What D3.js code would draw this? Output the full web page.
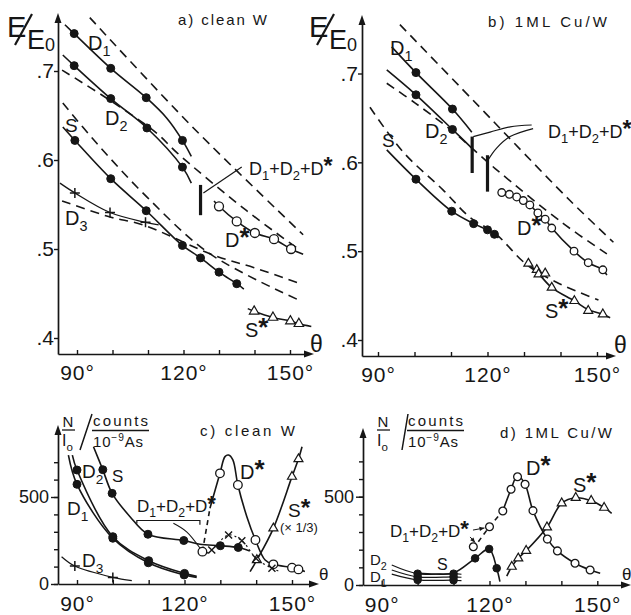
<!DOCTYPE html>
<html>
<head>
<meta charset="utf-8">
<script src="https://cdn.jsdelivr.net/npm/d3@7"></script>
<style>
  body { margin: 0; background: #fff; }
  text { font-family: "Liberation Sans", Arial, sans-serif; fill: #161616; }
</style>
</head>
<body>
<svg id="fig" width="631" height="615"></svg>
<script>
// ---- ticks ----
var angleTicks = [90, 100, 110, 120, 130, 140, 150];
var angleLabels = [90, 120, 150];
var energyTicks = [0.4, 0.5, 0.6, 0.7];
var countTicks = [0, 100, 200, 300, 400, 500, 600, 700];
var countLabels = [0, 500];

// ---- a) clean W : [theta deg, E/E0] ----
var aD1Pts = [[89.2, 0.742], [99.5, 0.703], [109.5, 0.670], [119.7, 0.622]];
var aD1Fit = [[86.6, 0.752], [89.2, 0.742], [99.5, 0.703], [109.5, 0.670], [115.3, 0.647], [119.7, 0.622], [122.2, 0.604]];
var aD2Pts = [[89.2, 0.706], [99.5, 0.669], [109.7, 0.636], [119.7, 0.592]];
var aD2Fit = [[86.0, 0.718], [89.2, 0.706], [99.5, 0.669], [109.7, 0.636], [119.7, 0.592], [122.2, 0.574]];
var aSPts = [[89.4, 0.622], [99.5, 0.579], [109.5, 0.543], [119.7, 0.504], [124.8, 0.490], [130.0, 0.474], [135.0, 0.461]];
var aSFit = [[86.0, 0.637], [89.4, 0.622], [99.5, 0.579], [109.5, 0.543], [119.7, 0.504], [124.8, 0.490], [130.0, 0.474], [135.0, 0.461], [137.0, 0.455]];
var aD3Pts = [[89.4, 0.563], [99.3, 0.541], [109.3, 0.530]];
var aD3Fit = [[85.2, 0.574], [89.4, 0.563], [99.3, 0.541], [109.3, 0.530], [113.0, 0.527]];
var aDsPts = [[130.0, 0.548], [135.0, 0.531], [140.1, 0.518], [145.5, 0.511], [150.3, 0.500]];
var aDsFit = [[128.6, 0.554], [130.0, 0.548], [135.0, 0.531], [140.1, 0.518], [145.5, 0.511], [150.3, 0.500], [153.7, 0.494]];
var aSsPts = [[139.9, 0.430], [145.2, 0.423], [150.1, 0.419], [152.5, 0.416]];
var aSsFit = [[138.1, 0.433], [139.9, 0.430], [145.2, 0.423], [150.1, 0.419], [152.5, 0.416], [156.0, 0.413]];
// dashed: calculated curves
var aD1Calc = [[93.6, 0.760], [122.8, 0.636], [153.7, 0.516]];
var aD2Calc = [[85.8, 0.701], [99.3, 0.667], [112.5, 0.630], [118.2, 0.608], [137.8, 0.543], [152.0, 0.501]];
var aSCalc = [[86.0, 0.664], [95.5, 0.619], [109.8, 0.558], [127.3, 0.495], [152.3, 0.443]];
var aD3Calc = [[85.8, 0.554], [99.3, 0.536], [108.7, 0.527], [128.5, 0.493], [139.9, 0.479], [152.3, 0.462]];
var aBars = [[124.8, 0.538, 0.572]];
var aLeader = [[125.6, 0.563], [136.4, 0.592]];

// ---- b) 1ML Cu/W ----
var bD1Pts = [[100.4, 0.701], [110.4, 0.660]];
var bD1Fit = [[93.75, 0.730], [100.4, 0.701], [110.4, 0.660], [115.7, 0.634]];
var bD2Pts = [[100.4, 0.676], [110.4, 0.637]];
var bD2Fit = [[92.4, 0.704], [100.4, 0.676], [110.4, 0.637], [115.7, 0.616]];
var bSPts = [[100.4, 0.581], [110.2, 0.545], [116.2, 0.531], [120.0, 0.524], [121.9, 0.519]];
var bSFit = [[92.4, 0.614], [100.4, 0.581], [110.2, 0.545], [116.2, 0.531], [120.0, 0.524], [121.9, 0.519], [123.0, 0.515]];
var bDsPts = [[123.9, 0.566], [126.0, 0.564], [128.0, 0.561], [129.8, 0.557], [131.6, 0.552], [133.8, 0.543],
              [135.8, 0.536], [137.6, 0.526], [143.7, 0.500], [147.6, 0.487], [151.6, 0.479]];
var bDsFit = [[123.0, 0.569], [123.9, 0.566], [126.0, 0.564], [128.0, 0.561], [129.8, 0.557], [131.6, 0.552], [133.8, 0.543],
              [135.8, 0.536], [137.6, 0.526], [143.7, 0.500], [147.6, 0.487], [151.6, 0.479], [152.7, 0.473]];
var bSsPts = [[131.2, 0.486], [133.5, 0.479], [134.0, 0.474], [135.8, 0.475], [137.6, 0.459], [143.8, 0.444], [147.6, 0.433], [151.6, 0.429]];
var bSsFit = [[130.7, 0.488], [133.5, 0.477], [137.6, 0.459], [143.8, 0.444], [147.6, 0.434], [151.6, 0.429], [153.6, 0.425]];
var bD1Calc = [[96.0, 0.755], [119.3, 0.656], [127.0, 0.623], [142.6, 0.557], [154.5, 0.510]];
var bD2Calc = [[92.4, 0.689], [100.1, 0.667], [110.4, 0.635], [122.1, 0.593], [140.8, 0.531], [152.7, 0.497]];
var bSCalc = [[87.8, 0.662], [96.8, 0.612], [107.8, 0.569], [115.2, 0.538], [122.1, 0.520], [130.7, 0.485], [138.9, 0.465], [150.4, 0.445]];
var bBars = [[115.8, 0.588, 0.629], [120.0, 0.567, 0.608]];
var bLeader1 = [[116.1, 0.629], [120.7, 0.634], [126.2, 0.640], [132.1, 0.642]];
var bLeader2 = [[120.2, 0.603], [122.5, 0.616], [126.2, 0.629], [132.5, 0.638]];

// ---- c) clean W : [theta deg, N/I0 counts] ----
var cD1Pts = [[90, 573], [100, 263], [109.9, 122], [119.9, 52]];
var cD1Fit = [[87.6, 741], [90, 573], [100, 263], [109.9, 122], [119.9, 52], [123.4, 38]];
var cD2Pts = [[90, 655], [100, 272], [110, 134], [120, 61]];
var cD2Fit = [[88.7, 741], [90, 655], [100, 272], [110, 134], [120, 61], [123.4, 44]];
var cSPts = [[97.2, 657], [99.8, 521], [109.8, 286], [119.8, 250], [130, 220], [135, 210]];
var cSFit = [[94.6, 789], [97.2, 657], [99.8, 521], [104.8, 387], [109.8, 286], [119.8, 250], [124.3, 228], [130, 220], [135, 210], [138.2, 190]];
var cD3Pts = [[89.4, 103], [100, 38]];
var cD3Fit = [[85.7, 157], [89.4, 103], [100, 38], [105.3, 19]];
var cDsPts = [[125, 186], [129.9, 636], [134.9, 569], [139.8, 253], [144.8, 113], [150, 94], [151.8, 84]];
var cDsRise = [[125, 186], [127.1, 435]];
var cDsFit = [[127.1, 435], [129.9, 636], [131.3, 732], [132.3, 741], [133.5, 713], [134.9, 569], [137.4, 387],
              [139.8, 253], [142.5, 138], [144.8, 113], [150, 94], [151.8, 84], [153.6, 72]];
var cSsPts = [[140.2, 138], [144.8, 320], [150, 617], [151.8, 718]];
var cSsFit = [[138.3, 71], [140.2, 138], [144.8, 320], [150, 617], [151.8, 718], [152.8, 789]];
var cXPts = [[127.6, 195], [132.3, 282], [136, 249], [140, 147], [144.4, 90]];
var cXFit = [[126.2, 176], [127.6, 195], [132.3, 282], [136, 249], [140, 147], [144.4, 90], [146.7, 71]];
var cBracket = [[106.7, 348], [106.7, 365], [124.3, 365], [124.3, 340]];
var cLeader = [[116.9, 349], [120.6, 300], [124.3, 207]];

// ---- d) 1ML Cu/W ----
var dDsPts = [[115.5, 217], [120, 330], [123.7, 419], [126, 542], [127.8, 613], [129.9, 570], [132.1, 421],
              [136.1, 260], [138.9, 193], [143.8, 123], [148.0, 85]];
var dDsRise = [[116.9, 245], [120, 330], [123.7, 419]];
var dDsFit = [[123.7, 419], [126, 542], [127.8, 620], [129.9, 570], [132.1, 421], [136.1, 260], [138.9, 193],
              [143.8, 123], [148.0, 85], [150.8, 66]];
var dSsPts = [[126.2, 104], [128, 151], [130.2, 194], [136, 327], [140.1, 463], [144, 494], [148.3, 477], [151.9, 438]];
var dSsFit = [[124.8, 50], [126.2, 104], [128, 151], [130.2, 194], [136, 327], [140.1, 463], [144, 494], [148.3, 477], [151.9, 438], [154, 406]];
var dSPts = [[100, 64], [110, 64], [116, 151], [119.9, 204], [122, 95]];
var dD2Pts = [[100, 46], [110, 46]];
var dD1Pts = [[100, 29], [110, 27]];
var dSFit = [[100, 66], [105, 62], [110, 68], [116, 151], [119.9, 204], [122, 95], [122.9, 19]];
var dL1 = [[92.8, 113], [100, 64], [110, 64], [112.2, 61]];
var dL2 = [[92.8, 85], [100, 46], [110, 46], [112.2, 44]];
var dL3 = [[92.8, 62], [100, 29], [110, 27], [112.2, 25]];
var dArrow1 = [[115.4, 311], [118.6, 323]];
var dArrow2 = [[114.6, 272], [116.0, 240]];

// ---- drawing ----
var svg = d3.select("#fig");
var ink = "#161616";

function span(s, a, b) { return s.copy().domain([s.invert(a), s.invert(b)]).range([a, b]); }

var ax = span(d3.scaleLinear().domain([90, 150]).range([77, 290]), 58, 305);
var ay = span(d3.scaleLinear().domain([0.4, 0.7]).range([338, 71]), 354, 22);
var bx = span(d3.scaleLinear().domain([90, 150]).range([378, 597]), 362, 607);
var by = span(d3.scaleLinear().domain([0.4, 0.7]).range([340, 73.5]), 356, 24);
var cx = span(d3.scaleLinear().domain([90, 150]).range([77, 292]), 58, 310);
var cy = span(d3.scaleLinear().domain([0, 500]).range([584, 497]), 584, 434);
var dx = span(d3.scaleLinear().domain([90, 150]).range([381.7, 597.3]), 363, 622);
var dy = span(d3.scaleLinear().domain([0, 500]).range([585, 496.7]), 585, 437);

function styleAxis(g) {
  g.select(".domain").attr("stroke", ink).attr("stroke-width", 1.7);
  g.selectAll(".tick line").attr("stroke", ink).attr("stroke-width", 1.4);
  g.selectAll("text").attr("fill", ink);
}

function arrows(x, y) {
  var x0 = x.range()[0], x1 = x.range()[1], y0 = y.range()[0], y1 = y.range()[1];
  svg.append("path").attr("fill", ink)
    .attr("d", "M" + (x1 + 9) + "," + y0 + "L" + (x1 - 1) + "," + (y0 - 3.5) + "L" + (x1 - 1) + "," + (y0 + 3.5) + "Z");
  svg.append("path").attr("fill", ink)
    .attr("d", "M" + x0 + "," + (y1 - 9) + "L" + (x0 - 3.5) + "," + (y1 + 1) + "L" + (x0 + 3.5) + "," + (y1 + 1) + "Z");
}

function xAxis(x, y, pad) {
  var g = svg.append("g").attr("transform", "translate(0," + y.range()[0] + ")")
    .call(d3.axisBottom(x).tickValues(angleTicks).tickSizeInner(-4).tickSizeOuter(0).tickPadding(pad)
      .tickFormat(function (d) { return angleLabels.indexOf(d) < 0 ? "" : d + "°"; }));
  styleAxis(g);
  g.selectAll("text").style("font-size", "21px").style("letter-spacing", "1px");
}

function energyAxis(x, y) {
  var g = svg.append("g").attr("transform", "translate(" + x.range()[0] + ",0)")
    .call(d3.axisLeft(y).tickValues(energyTicks).tickSizeInner(4).tickSizeOuter(0).tickPadding(0)
      .tickFormat(function (d) { return "." + Math.round(d * 10); }));
  styleAxis(g);
  g.selectAll("text").style("font-size", "21px");
}

function countAxis(x, y) {
  var g = svg.append("g").attr("transform", "translate(" + x.range()[0] + ",0)")
    .call(d3.axisLeft(y).tickValues(countTicks).tickSizeInner(4).tickSizeOuter(0).tickFormat(""));
  styleAxis(g);
  var m = svg.append("g").attr("transform", "translate(" + x.range()[0] + ",0)")
    .call(d3.axisLeft(y).tickValues(countLabels).tickSizeInner(7).tickSizeOuter(0).tickPadding(2));
  m.select(".domain").remove();
  styleAxis(m);
  m.selectAll("text").style("font-size", "18px");
}

function curve(x, y, pts, dash, w) {
  svg.append("path").datum(pts)
    .attr("d", d3.line().x(function (d) { return x(d[0]); }).y(function (d) { return y(d[1]); })
      .curve(d3.curveCatmullRom.alpha(0.5)))
    .attr("fill", "none").attr("stroke", ink).attr("stroke-width", w || 1.6)
    .attr("stroke-dasharray", dash || null);
}

function poly(x, y, pts, w) {
  svg.append("path").datum(pts)
    .attr("d", d3.line().x(function (d) { return x(d[0]); }).y(function (d) { return y(d[1]); }))
    .attr("fill", "none").attr("stroke", ink).attr("stroke-width", w || 1.2);
}

function plot(x, y, pts, kind, r) {
  var sel = svg.append("g").selectAll("path").data(pts).enter().append("path")
    .attr("transform", function (d) { return "translate(" + x(d[0]) + "," + y(d[1]) + ")"; })
    .attr("stroke", ink);
  if (kind === "dot") sel.attr("d", d3.symbol(d3.symbolCircle, Math.PI * r * r)).attr("fill", ink);
  if (kind === "ring") sel.attr("d", d3.symbol(d3.symbolCircle, Math.PI * r * r)).attr("fill", "#fff").attr("stroke-width", 1.3);
  if (kind === "tri") sel.attr("d", d3.symbol(d3.symbolTriangle, r * r * 2.2)).attr("fill", "#fff").attr("stroke-width", 1.2);
  if (kind === "plus") sel.attr("d", "M" + (-r) + ",0H" + r + "M0," + (-r) + "V" + r).attr("fill", "none").attr("stroke-width", 1.5);
  if (kind === "cross") sel.attr("d", "M" + (-r) + "," + (-r) + "L" + r + "," + r + "M" + (-r) + "," + r + "L" + r + "," + (-r))
    .attr("fill", "none").attr("stroke-width", 1.4);
}

function bars(x, y, list) {
  svg.append("g").selectAll("line").data(list).enter().append("line")
    .attr("x1", function (d) { return x(d[0]); }).attr("x2", function (d) { return x(d[0]); })
    .attr("y1", function (d) { return y(d[1]); }).attr("y2", function (d) { return y(d[2]); })
    .attr("stroke", ink).attr("stroke-width", 3.2);
}

function arrowTo(x, y, pts) {
  poly(x, y, pts, 1);
  var p = pts[pts.length - 1], q = pts[pts.length - 2];
  var ex = x(p[0]), ey = y(p[1]);
  var ang = Math.atan2(ey - y(q[1]), ex - x(q[0])) * 180 / Math.PI;
  svg.append("path").attr("d", "M0,0L-5,-2.2L-5,2.2Z").attr("fill", ink)
    .attr("transform", "translate(" + ex + "," + ey + ") rotate(" + ang + ")");
}

// rich text with sub/superscripts
function say(px, py, parts, size, len) {
  var t = svg.append("text").attr("x", px).attr("y", py).style("font-size", size + "px");
  if (len) t.attr("textLength", len).attr("lengthAdjust", "spacing");
  var cur = 0;
  parts.forEach(function (p) {
    if (typeof p === "string") p = { s: p, up: 0, k: 1 };
    var off = p.up * size;
    t.append("tspan").attr("dy", cur - off).style("font-size", (size * p.k) + "px")
      .style("font-weight", p.bold ? "bold" : null).text(p.s);
    cur = off;
  });
  return t;
}
function sub(s) { return { s: s, up: -0.3, k: 0.72 }; }
function sup(s) { return { s: s, up: 0.4, k: 0.68 }; }
function star() { return { s: "*", up: 0.05, k: 1.3, bold: true }; }

function seg(x1, y1, x2, y2, w) {
  svg.append("line").attr("x1", x1).attr("y1", y1).attr("x2", x2).attr("y2", y2)
    .attr("stroke", ink).attr("stroke-width", w || 1.3);
}

function energyLabel(ox) {
  say(ox + 7, 37, ["E"], 29);
  seg(ox + 15, 45, ox + 32, 14, 2.2);
  say(ox + 27, 49, ["E"], 27);
  say(ox + 45, 51, ["0"], 18);
}

function countLabel(ox, slash) {
  say(ox + 68, 427, ["N"], 15).attr("text-anchor", "middle");
  seg(ox + 62, 430, ox + 75, 430, 1.3);
  say(ox + 62, 446, ["I", sub("o")], 16);
  seg(ox + slash[0], 450, ox + slash[1], 414, 1.5);
  say(ox + 93, 426, ["counts"], 15, 55);
  seg(ox + 92, 430.5, ox + 149, 430.5, 1.3);
  say(ox + 93, 447, ["10", sup("−9"), "As"], 15, 50);
}

var dash = "9,6";
var plusD = ["D", sub("1"), "+D", sub("2"), "+D", star()];

// ===== panel a =====
xAxis(ax, ay, 11);
energyAxis(ax, ay);
arrows(ax, ay);
curve(ax, ay, aD1Calc, dash);
curve(ax, ay, aD2Calc, dash);
curve(ax, ay, aSCalc, dash);
curve(ax, ay, aD3Calc, dash);
curve(ax, ay, aD1Fit);
curve(ax, ay, aD2Fit);
curve(ax, ay, aSFit);
curve(ax, ay, aD3Fit, null, 1.3);
curve(ax, ay, aDsFit);
curve(ax, ay, aSsFit);
plot(ax, ay, aD1Pts, "dot", 4);
plot(ax, ay, aD2Pts, "dot", 4);
plot(ax, ay, aSPts, "dot", 4);
plot(ax, ay, aD3Pts, "plus", 5);
plot(ax, ay, aDsPts, "ring", 4.5);
plot(ax, ay, aSsPts, "tri", 4.2);
bars(ax, ay, aBars);
poly(ax, ay, aLeader, 1.2);
energyLabel(0);
say(178, 25, ["a) clean W"], 15, 89);
say(88, 50, ["D", sub("1")], 20);
say(105, 125, ["D", sub("2")], 20);
say(65, 132, ["S"], 19);
say(65, 225, ["D", sub("3")], 20);
say(225, 247, ["D", star()], 20);
say(245, 337, ["S", star()], 20);
say(249, 175, plusD, 18);
say(310, 352, ["θ"], 23);

// ===== panel b =====
xAxis(bx, by, 11);
energyAxis(bx, by);
arrows(bx, by);
curve(bx, by, bD1Calc, dash);
curve(bx, by, bD2Calc, dash);
curve(bx, by, bSCalc, dash);
curve(bx, by, bD1Fit);
curve(bx, by, bD2Fit);
curve(bx, by, bSFit);
curve(bx, by, bDsFit);
curve(bx, by, bSsFit);
plot(bx, by, bD1Pts, "dot", 4);
plot(bx, by, bD2Pts, "dot", 4);
plot(bx, by, bSPts, "dot", 4);
plot(bx, by, bDsPts, "ring", 3.8);
plot(bx, by, bSsPts, "tri", 4);
bars(bx, by, bBars);
curve(bx, by, bLeader1, null, 1.2);
curve(bx, by, bLeader2, null, 1.2);
energyLabel(302);
say(488, 27, ["b) 1ML Cu/W"], 15, 119);
say(390, 55, ["D", sub("1")], 20);
say(425, 138, ["D", sub("2")], 20);
say(382, 147, ["S"], 19);
say(517, 235, ["D", star()], 20);
say(545, 318, ["S", star()], 20);
say(548, 138, plusD, 18);
say(614, 353, ["θ"], 23);

// ===== panel c =====
xAxis(cx, cy, 12);
countAxis(cx, cy);
arrows(cx, cy);
curve(cx, cy, cD1Fit);
curve(cx, cy, cD2Fit);
curve(cx, cy, cSFit);
curve(cx, cy, cD3Fit, null, 1.2);
curve(cx, cy, cDsRise, "5,4");
curve(cx, cy, cDsFit);
curve(cx, cy, cSsFit);
curve(cx, cy, cXFit, "2,3", 1.2);
plot(cx, cy, cD1Pts, "dot", 4);
plot(cx, cy, cD2Pts, "dot", 4);
plot(cx, cy, cSPts, "dot", 4);
plot(cx, cy, cD3Pts, "plus", 5);
plot(cx, cy, cSsPts, "tri", 4);
plot(cx, cy, cDsPts, "ring", 4.3);
plot(cx, cy, cXPts, "cross", 3.5);
poly(cx, cy, cBracket, 1.2);
curve(cx, cy, cLeader, null, 1.1);
countLabel(0, [80, 92]);
say(200, 436, ["c) clean W"], 15, 95);
say(82, 478, ["D", sub("2")], 19);
say(112, 482, ["S"], 17);
say(67, 515, ["D", sub("1")], 19);
say(82, 567, ["D", sub("3")], 19);
say(240, 479, ["D", star()], 20);
say(288, 517, ["S", star()], 19);
say(280, 532, ["(× 1/3)"], 13);
say(137, 512, plusD, 17);
say(319, 580, ["θ"], 17);

// ===== panel d =====
xAxis(dx, dy, 12);
countAxis(dx, dy);
arrows(dx, dy);
curve(dx, dy, dL1, null, 1.2);
curve(dx, dy, dL2, null, 1.2);
curve(dx, dy, dL3, null, 1.2);
curve(dx, dy, dSFit);
curve(dx, dy, dDsRise, "5,4");
curve(dx, dy, dDsFit);
curve(dx, dy, dSsFit);
plot(dx, dy, dSPts, "dot", 3.8);
plot(dx, dy, dD2Pts, "dot", 3.8);
plot(dx, dy, dD1Pts, "dot", 3.8);
plot(dx, dy, dDsPts, "ring", 3.9);
plot(dx, dy, dSsPts, "tri", 4);
arrowTo(dx, dy, dArrow1);
arrowTo(dx, dy, dArrow2);
countLabel(315, [87, 93]);
say(500, 438, ["d) 1ML Cu/W"], 15, 112);
say(526, 475, ["D", star()], 20);
say(573, 492, ["S", star()], 20);
say(390, 537, plusD, 17);
say(370, 565, ["D", sub("2")], 15);
say(370, 582, ["D", sub("1")], 15);
say(437, 570, ["S"], 16);
say(622, 580, ["θ"], 17);
</script>
</body>
</html>
